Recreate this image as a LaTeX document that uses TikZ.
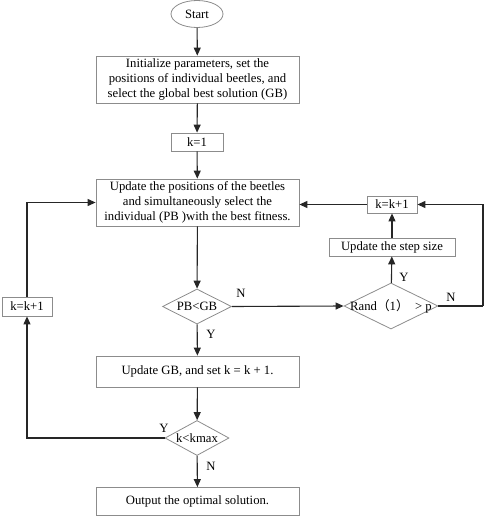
\documentclass[tikz,border=0pt]{standalone}
\usepackage{fontspec}
\setmainfont{Liberation Serif}
\newfontfamily\cjk{Noto Sans CJK SC}
\usetikzlibrary{arrows.meta,shapes.geometric}

\begin{document}
\begin{tikzpicture}[x=1pt,y=-1pt,
  every node/.style={font=\fontsize{12.7}{15}\selectfont},
  box/.style={draw=black!45,line width=0.8pt,inner sep=0pt,align=center},
  cond/.style={diamond,draw=black!45,line width=0.8pt,inner sep=0pt,aspect=2},
  arr/.style={-{Triangle[length=8pt,width=7pt]},line width=1.1pt,draw=black!85},
  line/.style={line width=1.1pt,draw=black!85}]
\useasboundingbox (0,0) rectangle (484,516);
\node[ellipse,draw=black!45,line width=0.8pt,minimum width=52pt,minimum height=27pt,inner sep=0pt] (start) at (197,14) {Start};
\node[box,minimum width=203pt,minimum height=47pt] (init) at (197.5,79.5) {Initialize parameters, set the\\positions of individual beetles, and\\select the global best solution (GB)};
\node[box,minimum width=52pt,minimum height=18pt] (kone) at (197,142) {k=1};
\node[box,minimum width=203pt,minimum height=47pt] (upd) at (197.5,202.5) {Update the positions of the beetles\\and simultaneously select the\\individual (PB )with the best fitness.};
\node[cond,minimum width=69pt,minimum height=35pt] (pbgb) at (197,306.5) {PB<GB};
\node[box,minimum width=203pt,minimum height=31pt] (updgb) at (197.5,371.5) {Update GB, and set k = k + 1.};
\node[cond,minimum width=64pt,minimum height=35pt] (kmax) at (197,438) {k<kmax};
\node[box,minimum width=203pt,minimum height=28pt] (out) at (197.5,501.5) {Output the optimal solution.};
\node[box,minimum width=50pt,minimum height=19pt] (kleft) at (27,306.5) {k=k+1};
\node[cond,inner xsep=-14pt,minimum width=94pt,minimum height=46pt] (rand) at (391,306) {Rand{\cjk （}1{\cjk ）} \ > p};
\node[box,minimum width=126pt,minimum height=18pt] (step) at (392,247) {Update the step size};
\node[box,minimum width=50pt,minimum height=17pt] (kright) at (392,204.5) {k=k+1};
\coordinate (rc) at (483,306);
% main line
\draw[arr] (start) -- (init);
\draw[arr] (init) -- (kone);
\draw[arr] (kone) -- (upd);
\draw[arr] (upd) -- (pbgb);
\draw[arr] (pbgb) -- (updgb);
\draw[arr] (updgb) -- (kmax);
\draw[arr] (kmax) -- (out);
% loops
\draw[arr] (pbgb.east) -- (rand.west);
\draw[arr] (rand) -- (step);
\draw[arr] (step) -- (kright);
\draw[arr] (kright.west) -- (kright.west -| upd.east);
\draw[line] (rand.east) -- (rc);
\draw[arr] (rc) |- (kright.east);
\draw[arr] (kmax.west) -| (kleft.south);
\draw[arr] (kleft.north) |- (upd.west);
%notes
\node (n1) at (241,293) {N};
\node (y1) at (211,334) {Y};
\node (y2) at (404,277) {Y};
\node (n2) at (451,297) {N};
\node (y3) at (164,428) {Y};
\node (n3) at (211,466) {N};
\end{tikzpicture}
\end{document}
